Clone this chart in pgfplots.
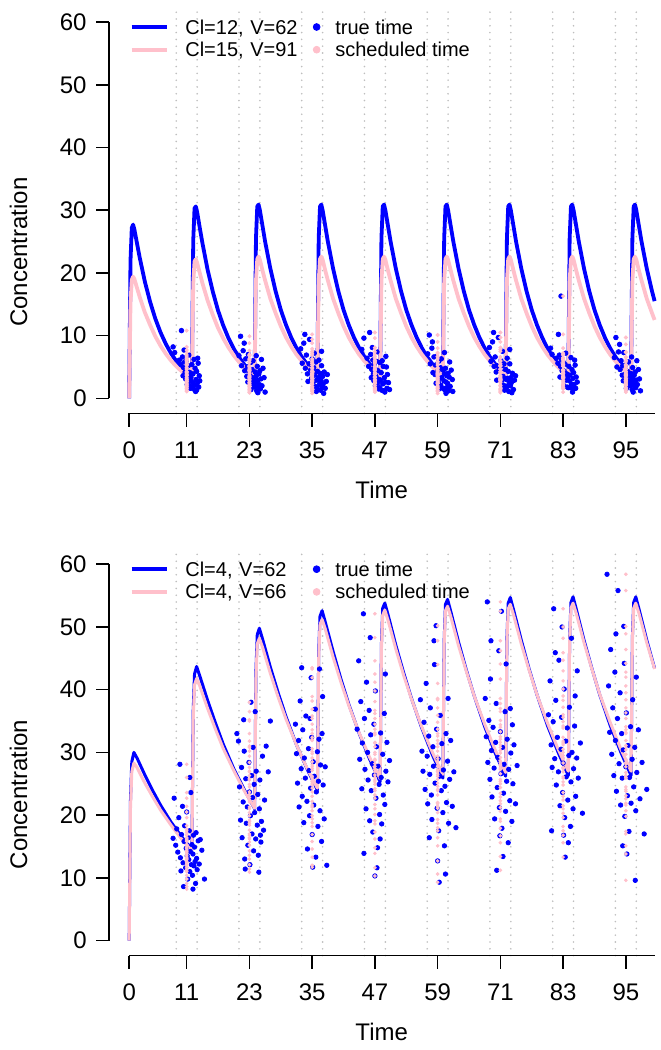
\documentclass[border=0pt]{standalone}
\usepackage{fontspec}
\setmainfont{Liberation Sans}
\usepackage{pgfplots}
\usepackage{pgfplotstable}
\pgfplotsset{compat=1.18}
\definecolor{rblue}{RGB}{0,0,255}
\definecolor{rpink}{RGB}{255,192,203}
\definecolor{rgray}{RGB}{190,190,190}

\pgfplotsset{
  panel/.style={
    scale only axis, width=272.8pt, height=203.2pt,
    xmin=-3.86, xmax=100.5, ymin=-2.4, ymax=62.4,
    hide axis, clip=false,
    legend columns=2, legend cell align=left,
    legend style={at={(0.0382,0.9228)}, anchor=west, draw=none, fill=none,
      inner sep=0pt, outer sep=0pt, row sep=4.35pt,
      font=\fontsize{10}{12}\selectfont,
      nodes={inner sep=0pt, text height=7pt, text depth=0pt},
      /tikz/column 1/.style={column sep=8.15pt},
      /tikz/column 2/.style={column sep=0pt, nodes={text width=63.95pt, align=left}},
      /tikz/column 3/.style={column sep=7.65pt}},
  },
  dotline/.style={rgray, line width=0.9pt, dash pattern=on 0pt off 3.4pt, line cap=round, forget plot},
  bluelineimg/.style={legend image code/.code={\draw[rblue,line width=1.9pt] (0pt,0pt)--(17.7pt,0pt);}},
  pinklineimg/.style={legend image code/.code={\draw[rpink,line width=1.9pt] (0pt,0pt)--(17.7pt,0pt);}},
  bluedotimg/.style={legend image code/.code={\draw[rblue,mark=*,mark size=1.7pt,mark options={draw=none,fill=rblue}] plot coordinates {(0pt,0pt)};}},
  pinkdotimg/.style={legend image code/.code={\draw[rpink,mark=*,mark size=1.7pt,mark options={draw=none,fill=rpink}] plot coordinates {(0pt,0pt)};}},
}

\newcommand{\raxes}{%
  \draw[line width=0.8pt] (axis cs:0,-2.4) -- (axis cs:100.5,-2.4);
  \draw[line width=0.8pt] (axis cs:-3.86,0) -- (axis cs:-3.86,60);
  \pgfplotsinvokeforeach{0,11,23,35,47,59,71,83,95}{
    \draw[line width=0.8pt] (axis cs:##1,-2.4) -- ([yshift=-6.7pt]axis cs:##1,-2.4);
    \node[font=\fontsize{12}{14}\selectfont, inner sep=0pt, anchor=center] at ([yshift=-18.3pt]axis cs:##1,-2.4) {##1};
  }
  \pgfplotsinvokeforeach{0,10,20,30,40,50,60}{
    \draw[line width=0.8pt] (axis cs:-3.86,##1) -- ([xshift=-6.7pt]axis cs:-3.86,##1);
    \node[font=\fontsize{12}{14}\selectfont, inner sep=0pt, anchor=east] at ([xshift=-11pt]axis cs:-3.86,##1) {##1};
  }
  \node[font=\fontsize{12}{14}\selectfont, inner sep=0pt, anchor=center] at ([yshift=-38.3pt]axis cs:48.3,-2.4) {Time};
  \node[font=\fontsize{12}{14}\selectfont, inner sep=0pt, anchor=center, rotate=90] at ([xshift=-45.25pt]axis cs:-3.86,23.3) {Concentration};
}

\newcommand{\dotlines}{%
  \pgfplotsinvokeforeach{9,13,21,25,33,37,45,49,57,61,69,73,81,85,93,97}{
    \addplot[dotline] coordinates {(##1,-2.4) (##1,62.4)};
  }
}

\pgfplotstableread[row sep=\\]{
t s c\\
8.4 11 8.2\\ 8.7 11 7.3\\ 10.0 11 10.8\\ 9.6 11 6.1\\ 9.9 11 5.4\\ 10.2 11 6.6\\ 10.4 11 4.9\\ 10.6 11 5.8\\ 10.7 11 4.2\\ 10.9 11 6.0\\
10.3 11 3.6\\ 10.8 11 3.1\\ 11.0 11 4.6\\ 11.2 11 3.8\\ 11.3 11 5.2\\ 11.5 11 2.7\\ 11.1 11 2.2\\ 11.6 11 4.1\\ 11.8 11 3.3\\ 11.9 11 1.9\\
12.1 11 2.6\\ 12.3 11 1.5\\ 12.2 11 3.9\\ 12.5 11 2.1\\ 12.6 11 4.8\\ 12.8 11 3.0\\ 12.9 11 1.3\\ 13.0 11 2.4\\ 13.2 11 5.6\\ 13.1 11 6.4\\
13.4 11 3.6\\ 13.3 11 1.8\\ 12.4 11 6.2\\ 12.7 11 1.1\\ 11.7 11 1.6\\ 13.5 11 2.8\\ 12.0 11 5.4\\ 11.4 11 6.9\\ 10.5 11 7.7\\ 12.9 11 4.3\\
21.0 23 6.8\\ 21.3 23 9.9\\ 21.5 23 5.2\\ 21.8 23 7.6\\ 22.1 23 4.4\\ 22.3 23 6.3\\ 22.5 23 3.5\\ 22.6 23 5.0\\ 22.8 23 7.0\\ 23.0 23 4.0\\
23.1 23 2.9\\ 23.2 23 5.7\\ 23.4 23 3.4\\ 23.5 23 4.6\\ 23.6 23 2.3\\ 23.7 23 6.0\\ 23.8 23 3.0\\ 24.0 23 1.8\\ 24.1 23 4.2\\ 24.2 23 2.5\\
24.3 23 3.6\\ 24.4 23 1.2\\ 24.5 23 5.1\\ 24.6 23 2.9\\ 24.7 23 1.9\\ 24.8 23 3.9\\ 24.9 23 2.2\\ 25.0 23 4.4\\ 25.1 23 1.5\\ 25.2 23 3.1\\
25.4 23 2.0\\ 25.6 23 4.8\\ 25.8 23 3.3\\ 26.0 23 1.0\\ 22.7 23 2.6\\ 23.3 23 1.4\\ 24.3 23 6.8\\ 22.0 23 8.8\\ 25.3 23 6.2\\ 24.6 23 0.9\\
32.8 35 7.9\\ 33.1 35 5.6\\ 33.4 35 8.8\\ 33.7 35 4.8\\ 33.9 35 6.9\\ 34.1 35 3.9\\ 34.4 35 5.5\\ 34.5 35 9.4\\ 34.7 35 4.5\\ 34.9 35 3.2\\
35.0 35 6.3\\ 35.2 35 2.6\\ 35.3 35 4.9\\ 35.5 35 3.7\\ 35.6 35 1.9\\ 35.7 35 5.8\\ 35.9 35 2.9\\ 36.0 35 4.3\\ 36.1 35 1.4\\ 36.2 35 3.3\\
36.4 35 2.2\\ 36.5 35 4.0\\ 36.6 35 1.3\\ 36.7 35 2.8\\ 36.8 35 5.2\\ 36.9 35 1.8\\ 37.0 35 3.5\\ 37.1 35 2.3\\ 37.3 35 4.2\\ 37.5 35 1.6\\
37.7 35 2.7\\ 37.9 35 3.8\\ 35.4 35 7.2\\ 36.3 35 6.1\\ 34.2 35 2.7\\ 37.2 35 0.8\\ 36.8 35 7.5\\ 33.6 35 10.2\\ 36.4 35 2.9\\ 35.8 35 1.1\\
44.5 47 7.8\\ 44.9 47 9.6\\ 46.0 47 10.5\\ 45.5 47 6.4\\ 45.8 47 5.1\\ 46.2 47 7.0\\ 46.4 47 4.6\\ 46.6 47 6.1\\ 46.7 47 3.9\\ 46.9 47 5.5\\
46.3 47 3.3\\ 46.8 47 2.8\\ 47.0 47 4.8\\ 47.2 47 3.5\\ 47.3 47 5.9\\ 47.5 47 2.4\\ 47.1 47 2.0\\ 47.6 47 4.4\\ 47.8 47 3.0\\ 47.9 47 1.7\\
48.1 47 2.9\\ 48.3 47 1.3\\ 48.2 47 4.1\\ 48.5 47 2.3\\ 48.6 47 5.1\\ 48.8 47 3.3\\ 48.9 47 1.0\\ 49.0 47 2.6\\ 49.2 47 5.0\\ 49.1 47 6.7\\
49.4 47 3.8\\ 49.3 47 1.6\\ 48.4 47 6.0\\ 48.7 47 1.2\\ 47.7 47 1.5\\ 49.6 47 2.5\\ 48.0 47 5.7\\ 47.4 47 7.4\\ 46.5 47 8.1\\ 49.8 47 1.4\\
57.1 59 7.1\\ 57.4 59 10.1\\ 57.6 59 5.5\\ 57.9 59 8.0\\ 58.1 59 4.1\\ 58.3 59 6.6\\ 58.5 59 3.8\\ 58.6 59 5.3\\ 58.8 59 6.7\\ 59.0 59 4.3\\
59.1 59 2.6\\ 59.2 59 5.9\\ 59.4 59 3.2\\ 59.5 59 4.9\\ 59.6 59 2.1\\ 59.7 59 6.3\\ 59.8 59 3.3\\ 60.0 59 1.6\\ 60.1 59 4.5\\ 60.2 59 2.8\\
60.3 59 3.9\\ 60.4 59 1.3\\ 60.5 59 4.8\\ 60.6 59 2.6\\ 60.7 59 1.7\\ 60.8 59 3.6\\ 60.9 59 2.4\\ 61.0 59 4.0\\ 61.1 59 1.2\\ 61.2 59 3.4\\
61.4 59 1.9\\ 61.6 59 4.5\\ 61.8 59 3.0\\ 61.9 59 1.1\\ 58.7 59 2.4\\ 59.3 59 1.5\\ 60.3 59 7.3\\ 58.0 59 9.0\\ 61.3 59 5.8\\ 60.6 59 0.8\\
68.9 71 8.1\\ 69.2 71 5.9\\ 69.5 71 9.0\\ 69.8 71 5.1\\ 70.0 71 6.6\\ 70.2 71 4.2\\ 70.4 71 5.2\\ 70.6 71 9.7\\ 70.8 71 4.7\\ 70.9 71 3.0\\
71.1 71 6.0\\ 71.2 71 2.8\\ 71.3 71 5.2\\ 71.5 71 3.5\\ 71.6 71 2.1\\ 71.7 71 5.5\\ 71.9 71 3.1\\ 72.0 71 4.6\\ 72.1 71 1.6\\ 72.2 71 3.0\\
72.4 71 2.0\\ 72.5 71 4.3\\ 72.6 71 1.1\\ 72.7 71 2.6\\ 72.8 71 5.5\\ 72.9 71 2.0\\ 73.0 71 3.3\\ 73.1 71 2.5\\ 73.3 71 4.0\\ 73.5 71 1.4\\
73.7 71 2.9\\ 73.9 71 3.6\\ 71.4 71 7.5\\ 72.3 71 6.4\\ 70.3 71 2.9\\ 73.2 71 0.9\\ 72.8 71 7.8\\ 69.7 71 10.5\\ 72.4 71 3.2\\ 71.8 71 1.3\\
80.6 83 8.0\\ 80.9 83 7.0\\ 82.1 83 10.2\\ 81.7 83 6.4\\ 82.0 83 5.6\\ 82.3 83 6.9\\ 82.5 83 5.1\\ 82.7 83 6.2\\ 82.8 83 4.4\\ 83.0 83 5.8\\
82.4 83 3.4\\ 82.9 83 3.3\\ 83.1 83 4.4\\ 83.3 83 4.0\\ 83.4 83 5.4\\ 83.6 83 2.9\\ 83.2 83 2.0\\ 83.7 83 3.9\\ 83.9 83 3.5\\ 84.0 83 1.7\\
84.2 83 2.8\\ 84.4 83 1.7\\ 84.3 83 3.7\\ 84.6 83 2.3\\ 84.7 83 4.6\\ 84.9 83 3.2\\ 85.0 83 1.5\\ 85.1 83 2.2\\ 85.3 83 5.3\\ 85.2 83 6.1\\
85.5 83 3.4\\ 85.4 83 1.6\\ 84.5 83 6.5\\ 84.8 83 1.0\\ 83.8 83 1.8\\ 85.7 83 2.6\\ 84.1 83 5.1\\ 83.5 83 7.2\\ 82.6 83 16.3\\ 85.0 83 4.1\\
92.8 95 6.5\\ 93.1 95 9.7\\ 93.3 95 5.0\\ 93.6 95 7.4\\ 93.9 95 4.6\\ 94.1 95 6.0\\ 94.3 95 3.7\\ 94.4 95 5.2\\ 94.6 95 7.3\\ 94.8 95 3.8\\
94.9 95 3.1\\ 95.0 95 5.4\\ 95.2 95 3.6\\ 95.3 95 4.3\\ 95.4 95 2.5\\ 95.5 95 5.8\\ 95.6 95 2.8\\ 95.8 95 2.0\\ 95.9 95 4.0\\ 96.0 95 2.7\\
96.1 95 3.4\\ 96.2 95 1.4\\ 96.3 95 4.9\\ 96.4 95 3.1\\ 96.5 95 2.1\\ 96.6 95 3.7\\ 96.7 95 2.4\\ 96.8 95 4.2\\ 96.9 95 1.7\\ 97.0 95 2.9\\
97.2 95 2.2\\ 97.4 95 4.6\\ 97.6 95 3.1\\ 97.8 95 1.2\\ 94.5 95 2.8\\ 95.1 95 1.6\\ 96.1 95 6.6\\ 93.8 95 8.6\\ 97.1 95 6.0\\ 96.4 95 1.0\\
}\topobs

\pgfplotstableread[row sep=\\]{
t s c\\
8.6 11 22.7\\ 9.7 11 28.1\\ 8.4 11 16.3\\ 8.9 11 15.2\\ 9.1 11 17.8\\ 9.3 11 14.1\\ 9.5 11 19.6\\ 9.8 11 13.2\\ 10.0 11 16.9\\ 10.2 11 21.4\\
10.3 11 12.4\\ 10.5 11 15.8\\ 10.6 11 18.3\\ 10.8 11 11.6\\ 10.9 11 14.7\\ 11.0 11 20.5\\ 11.1 11 13.5\\ 11.2 11 9.8\\ 11.3 11 16.4\\ 11.4 11 12.9\\
11.5 11 17.5\\ 11.6 11 11.0\\ 11.7 11 14.2\\ 11.8 11 23.6\\ 11.9 11 12.1\\ 12.0 11 15.3\\ 12.1 11 10.4\\ 12.2 11 13.8\\ 12.3 11 16.8\\ 12.4 11 11.9\\
12.5 11 14.9\\ 12.6 11 12.6\\ 12.7 11 9.1\\ 12.8 11 17.2\\ 12.9 11 13.1\\ 13.0 11 11.3\\ 13.2 11 15.9\\ 13.4 11 12.2\\ 13.6 11 16.1\\ 13.9 11 14.4\\
14.4 11 9.8\\ 10.4 11 8.6\\ 11.6 11 26.0\\ 12.2 11 8.2\\ 9.9 11 11.1\\
20.6 23 33.0\\ 20.9 23 31.8\\ 21.1 23 24.5\\ 21.3 23 19.2\\ 21.5 23 27.6\\ 21.6 23 16.4\\ 21.8 23 22.1\\ 22.0 23 30.2\\ 22.1 23 13.0\\ 22.3 23 25.8\\
22.4 23 18.7\\ 22.6 23 21.3\\ 22.7 23 15.2\\ 22.9 23 28.4\\ 23.0 23 23.7\\ 23.1 23 12.1\\ 23.2 23 19.9\\ 23.4 23 26.3\\ 23.5 23 17.0\\ 23.6 23 22.8\\
23.8 23 14.3\\ 23.9 23 24.9\\ 24.0 23 20.4\\ 24.1 23 36.5\\ 24.2 23 16.2\\ 24.3 23 27.0\\ 24.5 23 18.4\\ 24.6 23 23.3\\ 24.7 23 13.6\\ 24.9 23 21.0\\
25.0 23 25.6\\ 25.2 23 15.7\\ 25.3 23 19.0\\ 25.5 23 29.4\\ 25.7 23 17.6\\ 25.9 23 22.4\\ 26.2 23 31.0\\ 26.6 23 26.9\\ 27.0 23 35.0\\ 23.3 23 38.0\\
22.2 23 11.4\\ 24.8 23 10.9\\ 21.9 23 35.2\\ 25.1 23 16.8\\ 23.7 23 30.8\\
31.8 35 34.5\\ 32.0 35 29.8\\ 32.2 35 25.1\\ 32.4 35 31.9\\ 32.5 35 21.3\\ 32.7 35 38.2\\ 32.9 35 27.4\\ 33.1 35 23.0\\ 33.2 35 33.6\\ 33.4 35 18.8\\
33.5 35 29.1\\ 33.7 35 25.9\\ 33.8 35 35.8\\ 34.0 35 22.2\\ 34.1 35 14.6\\ 34.3 35 30.6\\ 34.4 35 27.1\\ 34.5 35 19.9\\ 34.7 35 24.3\\ 34.8 35 41.9\\
34.9 35 32.4\\ 35.0 35 16.9\\ 35.2 35 28.5\\ 35.3 35 21.6\\ 35.4 35 26.2\\ 35.6 35 36.9\\ 35.7 35 13.3\\ 35.8 35 23.7\\ 36.0 35 30.1\\ 36.1 35 18.2\\
36.2 35 25.4\\ 36.4 35 43.3\\ 36.5 35 20.7\\ 36.6 35 28.0\\ 36.8 35 15.8\\ 36.9 35 33.0\\ 37.1 35 24.8\\ 37.3 35 19.4\\ 37.5 35 27.7\\ 37.8 35 12.0\\
33.0 35 43.5\\ 35.1 35 11.7\\ 34.6 35 35.4\\ 36.3 35 32.1\\ 37.0 35 38.9\\
43.6 47 33.7\\ 43.9 47 44.6\\ 44.1 47 28.9\\ 44.3 47 38.1\\ 44.5 47 24.2\\ 44.6 47 31.5\\ 44.8 47 52.1\\ 45.0 47 35.4\\ 45.1 47 27.3\\ 45.3 47 21.0\\
45.4 47 41.2\\ 45.6 47 30.0\\ 45.7 47 25.6\\ 45.9 47 36.7\\ 46.0 47 19.1\\ 46.2 47 32.8\\ 46.3 47 23.9\\ 46.5 47 28.2\\ 46.6 47 17.3\\ 46.8 47 34.5\\
46.9 47 26.4\\ 47.1 47 39.8\\ 47.2 47 22.7\\ 47.3 47 30.9\\ 47.5 47 14.8\\ 47.6 47 27.8\\ 47.8 47 24.9\\ 47.9 47 20.1\\ 48.1 47 33.1\\ 48.2 47 26.0\\
48.3 47 18.6\\ 48.5 47 29.7\\ 48.6 47 23.2\\ 48.8 47 36.2\\ 48.9 47 21.7\\ 49.1 47 27.0\\ 49.3 47 31.6\\ 49.5 47 25.3\\ 49.8 47 28.7\\ 47.0 47 10.3\\
47.4 47 11.6\\ 46.1 47 48.3\\ 48.0 47 16.2\\ 44.9 47 13.9\\ 49.0 47 42.5\\
55.7 59 38.4\\ 56.0 59 30.2\\ 56.2 59 27.0\\ 56.4 59 34.8\\ 56.6 59 24.1\\ 56.8 59 41.0\\ 57.0 59 29.4\\ 57.1 59 21.8\\ 57.3 59 32.6\\ 57.5 59 26.5\\
57.6 59 37.1\\ 57.8 59 23.2\\ 57.9 59 19.3\\ 58.1 59 30.9\\ 58.2 59 27.8\\ 58.4 59 44.0\\ 58.5 59 25.1\\ 58.7 59 50.2\\ 58.8 59 33.7\\ 58.9 59 21.1\\
59.1 59 29.0\\ 59.2 59 17.5\\ 59.4 59 26.2\\ 59.5 59 35.9\\ 59.7 59 23.9\\ 59.8 59 31.4\\ 60.0 59 20.4\\ 60.1 59 27.2\\ 60.3 59 15.1\\ 60.4 59 24.6\\
60.6 59 33.0\\ 60.7 59 22.0\\ 60.9 59 28.6\\ 61.1 59 18.7\\ 61.3 59 25.7\\ 61.5 59 31.9\\ 61.8 59 21.4\\ 62.1 59 26.9\\ 62.5 59 18.0\\ 59.3 59 9.3\\
59.0 59 12.7\\ 60.5 59 10.6\\ 58.3 59 47.8\\ 61.0 59 38.6\\ 57.4 59 16.4\\
68.1 71 38.6\\ 68.3 71 32.5\\ 68.5 71 54.0\\ 68.6 71 28.4\\ 68.8 71 35.1\\ 69.0 71 25.7\\ 69.1 71 41.7\\ 69.3 71 30.3\\ 69.4 71 22.9\\ 69.6 71 34.0\\
69.8 71 27.5\\ 69.9 71 19.4\\ 70.1 71 31.6\\ 70.2 71 37.8\\ 70.4 71 24.4\\ 70.5 71 29.2\\ 70.7 71 46.2\\ 70.8 71 21.2\\ 71.0 71 33.3\\ 71.1 71 26.6\\
71.3 71 17.9\\ 71.4 71 30.8\\ 71.6 71 23.5\\ 71.7 71 28.1\\ 71.9 71 36.5\\ 72.0 71 20.6\\ 72.2 71 25.4\\ 72.3 71 32.1\\ 72.5 71 15.6\\ 72.6 71 27.3\\
72.8 71 22.3\\ 73.0 71 29.9\\ 73.2 71 19.0\\ 73.4 71 25.0\\ 73.6 71 31.2\\ 73.9 71 21.8\\ 74.2 71 27.9\\ 70.3 71 11.2\\ 71.5 71 13.4\\ 72.1 71 44.1\\
69.2 71 47.8\\ 72.9 71 37.0\\ 70.9 71 16.7\\ 73.3 71 34.4\\ 71.2 71 52.5\\
80.2 83 36.0\\ 80.5 83 41.4\\ 80.7 83 31.2\\ 80.9 83 27.6\\ 81.1 83 34.9\\ 81.2 83 52.9\\ 81.4 83 29.0\\ 81.6 83 38.3\\ 81.7 83 24.8\\ 81.9 83 32.4\\
82.1 83 26.9\\ 82.2 83 44.7\\ 82.4 83 21.5\\ 82.6 83 30.5\\ 82.7 83 35.6\\ 82.9 83 23.6\\ 83.0 83 28.3\\ 83.2 83 40.1\\ 83.3 83 19.6\\ 83.5 83 31.8\\
83.6 83 26.1\\ 83.8 83 33.9\\ 83.9 83 22.4\\ 84.1 83 29.5\\ 84.2 83 37.2\\ 84.4 83 18.2\\ 84.5 83 25.3\\ 84.7 83 30.0\\ 84.9 83 21.0\\ 85.0 83 27.4\\
85.2 83 34.2\\ 85.4 83 23.0\\ 85.6 83 29.1\\ 85.9 83 25.9\\ 86.3 83 31.5\\ 86.7 83 20.3\\ 83.4 83 13.3\\ 84.0 83 15.6\\ 82.8 83 50.0\\ 81.5 83 45.9\\
85.3 83 39.0\\ 84.6 83 48.2\\ 80.8 83 17.5\\ 83.1 83 16.8\\ 85.7 83 43.0\\
91.4 95 58.4\\ 91.7 95 40.6\\ 91.9 95 33.2\\ 92.1 95 46.4\\ 92.3 95 29.7\\ 92.5 95 37.1\\ 92.7 95 26.3\\ 92.9 95 42.8\\ 93.0 95 31.9\\ 93.2 95 23.8\\
93.4 95 35.4\\ 93.5 95 55.8\\ 93.7 95 28.2\\ 93.9 95 39.5\\ 94.0 95 21.6\\ 94.2 95 33.0\\ 94.3 95 25.9\\ 94.5 95 30.4\\ 94.7 95 44.2\\ 94.8 95 19.8\\
95.0 95 27.7\\ 95.1 95 36.3\\ 95.3 95 23.1\\ 95.4 95 31.1\\ 95.6 95 17.4\\ 95.7 95 26.0\\ 95.9 95 34.1\\ 96.0 95 21.9\\ 96.2 95 28.9\\ 96.3 95 38.4\\
96.5 95 24.5\\ 96.7 95 30.8\\ 96.9 95 20.7\\ 97.1 95 26.8\\ 97.4 95 33.6\\ 97.7 95 22.6\\ 98.1 95 28.4\\ 98.5 95 17.0\\ 99.0 95 24.1\\ 96.8 95 9.6\\
95.2 95 13.8\\ 94.6 95 50.1\\ 93.1 95 48.9\\ 97.0 95 42.0\\ 94.4 95 15.1\\
}\botobs

\begin{document}
\begin{tikzpicture}
\useasboundingbox (0,0) rectangle (330pt,525pt);

% ---------------- top panel ----------------
\begin{axis}[panel, at={(54.5pt,318.3pt)}, anchor=south west]
\addlegendimage{bluelineimg}\addlegendentry{Cl=12, V=62}
\addlegendimage{bluedotimg}\addlegendentry{true time}
\addlegendimage{pinklineimg}\addlegendentry{Cl=15, V=91}
\addlegendimage{pinkdotimg}\addlegendentry{scheduled time}
\dotlines
\addplot[only marks, mark=*, mark size=1.15pt, rblue, mark options={draw=none, fill=rblue}, forget plot] table[x=t, y=c] {\topobs};
\addplot[only marks, mark=*, mark size=0.8pt, rpink, mark options={draw=none, fill=rpink}, forget plot] table[x=s, y=c] {\topobs};
\addplot[rblue, line width=1.9pt, line join=round, forget plot] coordinates {
(0,0)(0.25,21.9)(0.5,27.2)(0.75,27.7)(1,26.9)(1.5,24.7)(2,22.5)(3,18.6)(4,15.4)(5,12.7)(6,10.5)(7,8.69)(8,7.18)(9,5.94)(10,4.91)(11,4.06)(12,3.36)
(12.25,25.1)(12.5,30.3)(12.75,30.6)(13,29.7)(13.5,27.2)(14,24.8)(15,20.5)(16,17.0)(17,14.0)(18,11.6)(19,9.58)(20,7.91)(21,6.55)(22,5.41)(23,4.48)(24,3.70)
(24.25,25.5)(24.5,30.6)(24.75,30.9)(25,30.0)(25.5,27.5)(26,25.0)(27,20.7)(28,17.1)(29,14.1)(30,11.7)(31,9.68)(32,8.0)(33,6.62)(34,5.47)(35,4.52)(36,3.74)
(36.25,25.5)(36.5,30.6)(36.75,30.9)(37,30.0)(37.5,27.5)(38,25.0)(39,20.7)(40,17.1)(41,14.1)(42,11.7)(43,9.68)(44,8.0)(45,6.62)(46,5.47)(47,4.52)(48,3.74)
(48.25,25.5)(48.5,30.6)(48.75,30.9)(49,30.0)(49.5,27.5)(50,25.0)(51,20.7)(52,17.1)(53,14.1)(54,11.7)(55,9.68)(56,8.0)(57,6.62)(58,5.47)(59,4.52)(60,3.74)
(60.25,25.5)(60.5,30.6)(60.75,30.9)(61,30.0)(61.5,27.5)(62,25.0)(63,20.7)(64,17.1)(65,14.1)(66,11.7)(67,9.68)(68,8.0)(69,6.62)(70,5.47)(71,4.52)(72,3.74)
(72.25,25.5)(72.5,30.6)(72.75,30.9)(73,30.0)(73.5,27.5)(74,25.0)(75,20.7)(76,17.1)(77,14.1)(78,11.7)(79,9.68)(80,8.0)(81,6.62)(82,5.47)(83,4.52)(84,3.74)
(84.25,25.5)(84.5,30.6)(84.75,30.9)(85,30.0)(85.5,27.5)(86,25.0)(87,20.7)(88,17.1)(89,14.1)(90,11.7)(91,9.68)(92,8.0)(93,6.62)(94,5.47)(95,4.52)(96,3.74)
(96.25,25.5)(96.5,30.6)(96.75,30.9)(97,30.0)(97.5,27.5)(98,25.0)(99,20.7)(100,17.1)(100.5,15.5)
};
\addplot[rpink, line width=1.9pt, line join=round, forget plot] coordinates {
(0,0)(0.25,15.2)(0.5,18.9)(0.75,19.4)(1,19.0)(1.5,17.6)(2,16.2)(3,13.7)(4,11.7)(5,9.88)(6,8.38)(7,7.11)(8,6.02)(9,5.11)(10,4.33)(11,3.67)(12,3.11)
(12.25,18.2)(12.5,21.8)(12.75,22.2)(13,21.6)(13.5,20.0)(14,18.4)(15,15.6)(16,13.3)(17,11.2)(18,9.54)(19,8.09)(20,6.85)(21,5.81)(22,4.93)(23,4.18)(24,3.54)
(24.25,18.7)(24.5,22.2)(24.75,22.6)(25,22.1)(25.5,20.4)(26,18.8)(27,15.9)(28,13.6)(29,11.5)(30,9.72)(31,8.25)(32,6.98)(33,5.93)(34,5.02)(35,4.26)(36,3.61)
(36.25,18.7)(36.5,22.2)(36.75,22.6)(37,22.1)(37.5,20.4)(38,18.8)(39,15.9)(40,13.6)(41,11.5)(42,9.72)(43,8.25)(44,6.98)(45,5.93)(46,5.02)(47,4.26)(48,3.61)
(48.25,18.7)(48.5,22.2)(48.75,22.6)(49,22.1)(49.5,20.4)(50,18.8)(51,15.9)(52,13.6)(53,11.5)(54,9.72)(55,8.25)(56,6.98)(57,5.93)(58,5.02)(59,4.26)(60,3.61)
(60.25,18.7)(60.5,22.2)(60.75,22.6)(61,22.1)(61.5,20.4)(62,18.8)(63,15.9)(64,13.6)(65,11.5)(66,9.72)(67,8.25)(68,6.98)(69,5.93)(70,5.02)(71,4.26)(72,3.61)
(72.25,18.7)(72.5,22.2)(72.75,22.6)(73,22.1)(73.5,20.4)(74,18.8)(75,15.9)(76,13.6)(77,11.5)(78,9.72)(79,8.25)(80,6.98)(81,5.93)(82,5.02)(83,4.26)(84,3.61)
(84.25,18.7)(84.5,22.2)(84.75,22.6)(85,22.1)(85.5,20.4)(86,18.8)(87,15.9)(88,13.6)(89,11.5)(90,9.72)(91,8.25)(92,6.98)(93,5.93)(94,5.02)(95,4.26)(96,3.61)
(96.25,18.7)(96.5,22.2)(96.75,22.6)(97,22.1)(97.5,20.4)(98,18.8)(99,15.9)(100,13.6)(100.5,12.5)
};
\raxes
\end{axis}

% ---------------- bottom panel ----------------
\begin{axis}[panel, at={(54.5pt,47.2pt)}, anchor=south west]
\addlegendimage{bluelineimg}\addlegendentry{Cl=4, V=62}
\addlegendimage{bluedotimg}\addlegendentry{true time}
\addlegendimage{pinklineimg}\addlegendentry{Cl=4, V=66}
\addlegendimage{pinkdotimg}\addlegendentry{scheduled time}
\dotlines
\addplot[only marks, mark=*, mark size=1.1pt, rblue, mark options={draw=none, fill=rblue}, forget plot] table[x=t, y=c] {\botobs};
\addplot[only marks, mark=*, mark size=0.7pt, rpink, mark options={draw=none, fill=rpink}, forget plot] table[x=s, y=c] {\botobs};
\addplot[rblue, line width=1.5pt, line join=round, forget plot] coordinates {
(0,0)(0.25,22.4)(0.5,28.5)(0.9,30.0)(1.5,29.1)(3,26.4)(4.5,23.9)(6,21.6)(8,18.9)(10,16.6)(12,14.5)
(12.25,36.7)(12.5,42.5)(12.9,43.7)(13.5,42.2)(15,38.3)(16.5,34.7)(18,31.3)(20,27.4)(22,24.1)(24,21.0)
(24.25,43.1)(24.5,48.8)(24.9,49.8)(25.5,48.1)(27,43.6)(28.5,39.5)(30,35.7)(32,31.2)(34,27.4)(36,24.0)
(36.25,46.0)(36.5,51.7)(36.9,52.6)(37.5,50.8)(39,46.1)(40.5,41.7)(42,37.7)(44,33.0)(46,28.9)(48,25.3)
(48.25,47.3)(48.5,53.0)(48.9,53.8)(49.5,52.0)(51,47.1)(52.5,42.7)(54,38.6)(56,33.8)(58,29.6)(60,25.9)
(60.25,47.9)(60.5,53.6)(60.9,54.4)(61.5,52.5)(63,47.6)(64.5,43.1)(66,39.0)(68,34.1)(70,29.9)(72,26.2)
(72.25,48.2)(72.5,53.8)(72.9,54.7)(73.5,52.8)(75,47.9)(76.5,43.3)(78,39.2)(80,34.3)(82,30.1)(84,26.3)
(84.25,48.3)(84.5,53.9)(84.9,54.8)(85.5,52.9)(87,47.9)(88.5,43.4)(90,39.2)(92,34.3)(94,30.1)(96,26.3)
(96.25,48.3)(96.5,53.9)(96.9,54.8)(97.5,52.9)(99,47.9)(100.5,43.4)
};
\addplot[rpink, line width=1.5pt, line join=round, forget plot] coordinates {
(0,0)(0.25,21.1)(0.5,26.9)(0.9,28.3)(1.5,27.6)(3,25.1)(4.5,22.9)(6,20.8)(8,18.4)(10,16.2)(12,14.3)
(12.25,35.2)(12.5,40.8)(12.9,41.8)(13.5,40.6)(15,37.0)(16.5,33.7)(18,30.6)(20,27.1)(22,23.9)(24,21.1)
(24.25,41.8)(24.5,47.3)(24.9,48.2)(25.5,46.8)(27,42.6)(28.5,38.8)(30,35.3)(32,31.2)(34,27.5)(36,24.3)
(36.25,45.0)(36.5,50.4)(36.9,51.2)(37.5,49.7)(39,45.2)(40.5,41.2)(42,37.5)(44,33.1)(46,29.2)(48,25.8)
(48.25,46.5)(48.5,51.9)(48.9,52.7)(49.5,51.1)(51,46.5)(52.5,42.3)(54,38.5)(56,34.0)(58,30.0)(60,26.5)
(60.25,47.2)(60.5,52.6)(60.9,53.3)(61.5,51.7)(63,47.0)(64.5,42.9)(66,39.0)(68,34.5)(70,30.4)(72,26.8)
(72.25,47.5)(72.5,52.9)(72.9,53.6)(73.5,52.0)(75,47.3)(76.5,43.1)(78,39.2)(80,34.7)(82,30.6)(84,27.0)
(84.25,47.7)(84.5,53.0)(84.9,53.8)(85.5,52.2)(87,47.5)(88.5,43.3)(90,39.3)(92,34.8)(94,30.6)(96,27.0)
(96.25,47.7)(96.5,53.0)(96.9,53.8)(97.5,52.2)(99,47.5)(100.5,43.3)
};
\raxes
\end{axis}
\end{tikzpicture}
\end{document}
